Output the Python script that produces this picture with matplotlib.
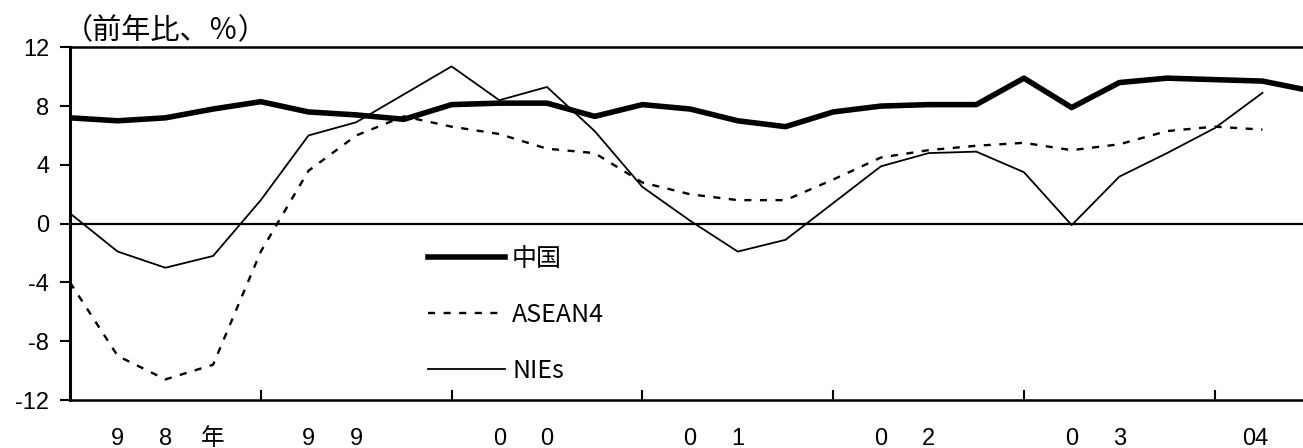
import numpy as np
import matplotlib.pyplot as plt

plt.rcParams['font.family'] = ['Liberation Sans', 'Noto Sans CJK JP', 'DejaVu Sans']
plt.rcParams['axes.unicode_minus'] = False

# quarterly data, 1998Q1 onward (year-on-year, %)
china = [7.2, 7.0, 7.2, 7.8, 8.3, 7.6, 7.4, 7.1,
         8.1, 8.2, 8.2, 7.3, 8.1, 7.8, 7.0, 6.6,
         7.6, 8.0, 8.1, 8.1, 9.9, 7.9, 9.6, 9.9,
         9.8, 9.7, 9.05]
asean4 = [-4.0, -9.0, -10.6, -9.6, -1.9, 3.6, 6.0, 7.3,
          6.6, 6.1, 5.1, 4.8, 2.8, 2.0, 1.6, 1.6,
          3.0, 4.5, 5.0, 5.3, 5.5, 5.0, 5.4, 6.3,
          6.6, 6.4]
nies = [0.7, -1.9, -3.0, -2.2, 1.6, 6.0, 6.9, 8.8,
        10.7, 8.4, 9.3, 6.3, 2.5, 0.2, -1.9, -1.1,
        1.4, 3.9, 4.8, 4.9, 3.5, -0.1, 3.2, 4.8,
        6.5, 8.9]

# x labels: one character per quarter position
label_pos = [1, 2, 3, 5, 6, 9, 10, 13, 14, 17, 18, 21, 22, 24.85]
label_txt = ['9', '8', '年', '9', '9', '0', '0', '0', '1', '0', '2', '0', '3', '04']
year_ticks = [4, 8, 12, 16, 20, 24]

fig = plt.figure(figsize=(13.03, 4.48), dpi=100)
ax = fig.add_axes([70 / 1303, 48 / 448, 1 - 70 / 1303, 352.7 / 448])

ax.plot(np.arange(len(china)), china, color='black', lw=4.0, label='中国')
ax.plot(np.arange(len(asean4)), asean4, color='black', lw=1.7,
        linestyle=(0, (3.0, 3.6)), label='ASEAN4')
ax.plot(np.arange(len(nies)), nies, color='black', lw=1.3, label='NIEs')

ax.axhline(0, color='black', lw=1.6, zorder=1)

ax.set_xlim(0, 25.85)
ax.set_ylim(-12, 12)
ax.set_yticks(range(-12, 13, 4))
ax.tick_params(axis='y', direction='out', length=7, width=1.5, pad=8, labelsize=17)

ax.set_xticks(year_ticks)
ax.set_xticklabels([])
ax.tick_params(axis='x', which='major', direction='in', length=7, width=1.5)
ax.set_xticks(label_pos, minor=True)
ax.set_xticklabels(label_txt, minor=True)
ax.tick_params(axis='x', which='minor', length=0, pad=20, labelsize=17)

ax.spines['right'].set_visible(False)
ax.spines['left'].set_linewidth(2.2)
ax.spines['bottom'].set_linewidth(1.8)
ax.spines['top'].set_linewidth(1.8)

fig.text(64 / 1303, 1 - 31 / 448, '（前年比、％）', fontsize=21,
         family=['Noto Sans CJK JP', 'DejaVu Sans'], va='center', ha='left')

leg = ax.legend(loc='upper left', bbox_to_anchor=(0.290, 0.438), frameon=False,
                borderpad=0, borderaxespad=0, handlelength=3.1,
                handletextpad=0.28, labelspacing=1.2,
                prop={'family': ['Noto Sans CJK JP', 'DejaVu Sans'], 'size': 18})

fig.savefig('out.png', dpi=100)
